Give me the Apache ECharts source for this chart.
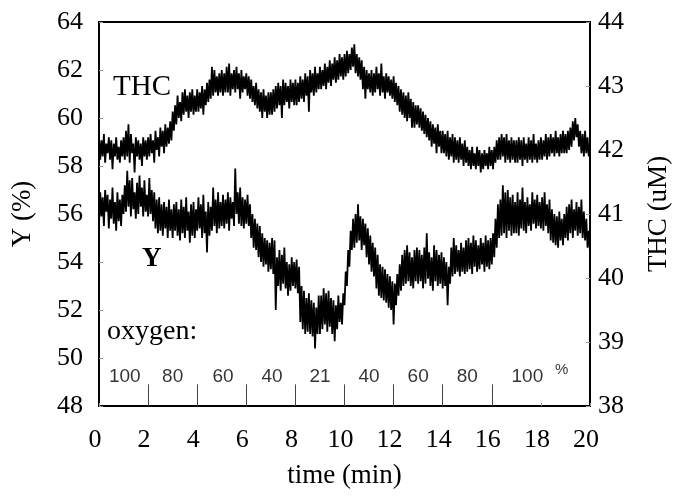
<!DOCTYPE html>
<html>
<head>
<meta charset="utf-8">
<script src="https://cdn.jsdelivr.net/npm/echarts/dist/echarts.min.js"></script>
<style>html,body{margin:0;padding:0;background:#fff}#c{width:681px;height:497px}</style>
</head>
<body>
<div id="c"></div>
<script>
// sampling: one reading every 0.05 min from 0 to 20 min (20 readings per row = 1 min)
const sampleStep = 0.05;
const xTicks = [0, 2, 4, 6, 8, 10, 12, 14, 16, 18, 20];
const yLeftTicks = [48, 50, 52, 54, 56, 58, 60, 62, 64];
const yRightTicks = [38, 39, 40, 41, 42, 43, 44];

// THC (uM), right axis
const thcValues = [
  42.2, 41.85, 42.15, 41.9, 42.25, 41.8, 42.1, 41.95, 42.2, 41.85, 42.15, 41.7, 42.1, 41.9, 42.2, 41.85, 42.05, 41.8, 42.15, 41.9,
  42.2, 41.85, 42.3, 41.9, 42.4, 41.8, 42.25, 41.95, 42.1, 41.65, 42.2, 41.9, 42.15, 41.85, 42.1, 41.75, 42.2, 41.9, 42.15, 41.85,
  42.2, 41.9, 42.25, 41.95, 42.15, 41.8, 42.3, 42.0, 42.2, 41.9, 42.35, 42.05, 42.3, 41.95, 42.4, 42.05, 42.35, 42.1, 42.45, 42.15,
  42.6, 42.3, 42.7, 42.4, 42.85, 42.5, 42.75, 42.45, 42.9, 42.55, 42.95, 42.6, 42.85, 42.5, 42.9, 42.6, 42.95, 42.55, 42.85, 42.6,
  42.95, 42.6, 42.9, 42.65, 43.0, 42.55, 42.95, 42.7, 43.05, 42.75, 43.1, 42.8, 43.3, 42.85, 43.25, 42.9, 43.15, 42.85, 43.2, 42.9,
  43.25, 42.85, 43.2, 42.9, 43.3, 42.9, 43.35, 42.85, 43.2, 42.95, 43.25, 42.9, 43.3, 42.95, 43.2, 42.8, 43.25, 42.9, 43.15, 42.95,
  43.2, 42.85, 43.15, 42.8, 43.1, 42.75, 43.0, 42.7, 43.05, 42.65, 42.95, 42.6, 42.9, 42.5, 42.95, 42.6, 42.85, 42.5, 42.9, 42.55,
  42.9, 42.55, 42.95, 42.6, 43.0, 42.65, 43.05, 42.7, 43.0, 42.5, 43.1, 42.7, 43.05, 42.75, 43.0, 42.65, 43.1, 42.75, 43.05, 42.7,
  43.1, 42.7, 43.05, 42.75, 43.15, 42.8, 43.1, 42.75, 43.2, 42.85, 43.15, 42.6, 43.25, 42.9, 43.2, 42.85, 43.3, 42.9, 43.2, 42.95,
  43.3, 42.95, 43.25, 43.0, 43.35, 42.95, 43.3, 43.05, 43.4, 43.0, 43.35, 43.1, 43.45, 43.05, 43.4, 43.1, 43.5, 43.15, 43.45, 43.1,
  43.5, 43.15, 43.55, 43.2, 43.5, 43.25, 43.6, 43.3, 43.65, 43.2, 43.5, 43.15, 43.45, 43.1, 43.4, 42.95, 43.3, 42.8, 43.25, 42.95,
  43.2, 42.9, 43.25, 42.85, 43.2, 42.9, 43.3, 42.95, 43.2, 42.85, 43.35, 42.9, 43.15, 42.8, 43.2, 42.9, 43.15, 42.85, 43.1, 42.8,
  43.15, 42.75, 43.05, 42.7, 43.0, 42.6, 42.95, 42.55, 42.9, 42.5, 42.85, 42.45, 42.9, 42.5, 42.8, 42.35, 42.75, 42.35, 42.7, 42.4,
  42.7, 42.35, 42.65, 42.3, 42.6, 42.25, 42.55, 42.2, 42.5, 42.15, 42.45, 42.05, 42.4, 42.1, 42.35, 41.95, 42.4, 42.05, 42.3, 41.95,
  42.3, 41.95, 42.25, 41.9, 42.3, 41.85, 42.2, 41.9, 42.25, 41.8, 42.2, 41.85, 42.15, 41.8, 42.2, 41.85, 42.1, 41.75, 42.15, 41.8,
  42.05, 41.75, 42.0, 41.7, 42.05, 41.75, 41.95, 41.7, 42.05, 41.75, 42.0, 41.65, 41.95, 41.7, 42.0, 41.75, 41.95, 41.7, 42.05, 41.75,
  42.0, 41.7, 42.05, 41.8, 42.15, 41.85, 42.2, 41.85, 42.25, 41.9, 42.2, 41.8, 42.25, 41.85, 42.15, 41.8, 42.2, 41.85, 42.15, 41.8,
  42.15, 41.8, 42.2, 41.85, 42.15, 41.75, 42.2, 41.85, 42.1, 41.8, 42.2, 41.85, 42.15, 41.8, 42.25, 41.85, 42.1, 41.8, 42.15, 41.85,
  42.2, 41.85, 42.15, 41.9, 42.25, 41.85, 42.2, 41.9, 42.25, 41.95, 42.2, 41.9, 42.3, 41.95, 42.2, 41.9, 42.25, 41.95, 42.3, 41.95,
  42.25, 41.95, 42.3, 42.0, 42.35, 42.05, 42.45, 42.15, 42.5, 42.2, 42.4, 42.05, 42.3, 41.95, 42.25, 41.9, 42.3, 41.95, 42.2, 41.9,
  42.1
];

// Y (%), left axis
const yValues = [
  55.6, 56.9, 55.9, 56.7, 55.5, 57.0, 56.1, 56.8, 55.4, 56.6, 55.8, 57.1, 55.6, 56.5, 55.3, 56.9, 55.7, 56.6, 55.5, 56.8,
  56.0, 57.2, 56.1, 57.8, 56.3, 57.4, 55.9, 57.5, 56.2, 56.9, 55.8, 57.3, 56.0, 57.6, 56.3, 57.1, 55.9, 57.4, 56.1, 56.8,
  55.9, 57.5, 56.0, 57.0, 55.7, 56.9, 55.4, 56.6, 55.2, 56.7, 55.3, 56.4, 55.1, 56.5, 55.4, 56.3, 55.0, 56.6, 55.3, 56.2,
  55.0, 56.4, 55.3, 56.5, 55.1, 56.2, 54.9, 56.6, 55.2, 56.3, 55.0, 56.7, 55.3, 56.1, 54.8, 56.4, 55.1, 56.5, 55.0, 56.2,
  55.3, 56.7, 55.4, 56.4, 55.0, 56.8, 55.2, 56.1, 54.4, 56.5, 55.1, 56.3, 55.3, 57.1, 55.5, 56.6, 55.2, 56.9, 55.4, 56.5,
  55.5, 56.8, 55.4, 56.6, 55.6, 56.9, 55.3, 56.7, 55.8, 56.5, 55.5, 57.9, 56.0, 56.9, 55.6, 57.1, 55.5, 56.7, 55.4, 56.6,
  55.6, 56.8, 55.5, 56.4, 55.0, 56.0, 54.6, 55.8, 54.5, 55.6, 54.2, 55.5, 54.0, 55.2, 53.8, 55.0, 53.9, 54.9, 53.6, 54.8,
  53.7, 55.0, 53.5, 54.9, 52.0, 54.2, 53.0, 54.5, 52.8, 54.3, 53.1, 54.6, 52.9, 54.0, 52.6, 53.9, 52.8, 54.2, 53.0, 54.0,
  52.9, 54.1, 52.7, 53.8, 51.5, 53.0, 51.2, 52.8, 51.0, 52.5, 51.1, 52.7, 51.0, 52.4, 50.9, 52.3, 50.4, 52.1, 51.0, 52.6,
  51.0, 52.6, 51.2, 52.9, 51.4, 52.7, 51.1, 52.8, 51.3, 52.5, 51.0, 52.4, 50.7, 52.2, 51.2, 52.6, 51.5, 52.3, 51.4, 52.7,
  52.2, 53.6, 53.0, 54.5, 53.8, 55.3, 54.5, 55.8, 54.6, 56.0, 54.8, 56.4, 54.9, 55.9, 54.5, 55.8, 54.7, 55.6, 54.2, 55.4,
  53.9, 55.1, 53.6, 54.8, 53.4, 54.6, 52.9, 54.3, 52.6, 53.9, 52.5, 53.8, 52.4, 53.7, 52.3, 53.5, 52.1, 53.4, 52.0, 53.2,
  51.4, 53.1, 52.2, 53.5, 52.6, 53.9, 52.8, 54.3, 53.0, 54.5, 53.1, 54.7, 53.2, 54.4, 53.0, 54.2, 52.9, 54.5, 53.2, 54.6,
  53.1, 54.5, 53.2, 54.3, 52.9, 54.6, 53.1, 55.2, 53.3, 54.4, 53.0, 54.2, 52.8, 54.7, 53.2, 54.5, 53.0, 54.3, 53.1, 54.4,
  52.9, 54.2, 53.0, 54.0, 52.2, 53.8, 53.1, 54.6, 53.4, 55.0, 53.5, 54.7, 53.6, 54.5, 53.4, 54.8, 53.6, 54.6, 53.5, 54.9,
  53.6, 55.0, 53.7, 54.8, 53.5, 55.1, 53.8, 54.9, 53.6, 54.7, 53.7, 55.0, 53.9, 54.8, 53.6, 55.1, 53.8, 54.9, 53.7, 55.0,
  53.9, 55.2, 54.2, 55.8, 54.6, 56.4, 55.0, 56.6, 55.1, 57.2, 55.2, 56.9, 55.0, 57.0, 55.3, 56.7, 55.1, 56.8, 55.2, 56.5,
  55.2, 56.9, 55.1, 56.6, 55.4, 57.1, 55.3, 56.5, 55.2, 56.7, 55.5, 56.4, 55.3, 56.9, 55.6, 56.6, 55.4, 56.8, 55.5, 56.5,
  55.4, 56.7, 55.3, 56.9, 55.5, 56.4, 55.2, 56.6, 54.9, 56.2, 54.8, 56.0, 54.7, 55.9, 54.6, 56.1, 54.9, 55.8, 54.7, 56.0,
  55.0, 56.3, 54.9, 56.4, 55.2, 56.6, 55.0, 56.2, 55.3, 56.5, 55.1, 56.3, 55.2, 56.6, 55.0, 56.1, 54.9, 55.8, 54.6, 55.3,
  54.4
];

// oxygen (%) periods: label text, centre time of the label
const oxygenLabels = ['100', '80', '60', '40', '21', '40', '60', '80', '100'];
const oxygenLabelTimes = [1.05, 3.0, 5.05, 7.05, 9.0, 11.0, 13.0, 15.0, 17.45];
const oxygenLabelLevel = 49.2;      // on the Y (%) scale
const oxygenDividerTimes = [2, 4, 6, 8, 10, 12, 14, 16];
const oxygenDividerTop = 48.9;
const percentSign = { t: 18.85, level: 49.5 };

const serif = "'Liberation Serif', 'DejaVu Serif', serif";
const sans = "'Liberation Sans', Arial, sans-serif";

const thcData = thcValues.map((v, i) => [Math.round(i * sampleStep * 100) / 100, v]);
const yData = yValues.map((v, i) => [Math.round(i * sampleStep * 100) / 100, v]);

const chart = echarts.init(document.getElementById('c'), null, { renderer: 'canvas' });

const axisLineStyle = { color: '#000', width: 2 };

chart.setOption({
  animation: false,
  backgroundColor: '#fff',
  grid: { left: 99, right: 91, top: 22, bottom: 91, show: true, borderColor: '#000', borderWidth: 2, backgroundColor: 'transparent' },
  xAxis: {
    type: 'value', min: xTicks[0], max: xTicks[xTicks.length - 1], interval: 2,
    name: 'time (min)', nameLocation: 'middle', nameGap: 56,
    nameTextStyle: { fontFamily: serif, fontSize: 27, color: '#000' },
    axisLine: { lineStyle: axisLineStyle },
    axisTick: { show: true, inside: true, length: 3, lineStyle: { color: '#999', width: 1 } },
    axisLabel: { fontFamily: serif, fontSize: 26, color: '#000', margin: 21, padding: [0, 8, 0, 0] },
    splitLine: { show: false }
  },
  yAxis: [
    {
      type: 'value', min: 48, max: 64, interval: 2, position: 'left',
      name: 'Y (%)', nameLocation: 'middle', nameGap: 63, nameRotate: 90,
      nameTextStyle: { fontFamily: serif, fontSize: 27, color: '#000' },
      axisLine: { show: true, lineStyle: axisLineStyle },
      axisTick: { show: true, inside: true, length: 4, lineStyle: { color: '#999', width: 1 } },
      axisLabel: { fontFamily: serif, fontSize: 26, color: '#000', margin: 16 },
      splitLine: { show: false }
    },
    {
      type: 'value', min: 38, max: 44, interval: 1, position: 'right',
      name: 'THC (uM)', nameLocation: 'middle', nameGap: 55, nameRotate: 90,
      nameTextStyle: { fontFamily: serif, fontSize: 27, color: '#000' },
      axisLine: { show: true, lineStyle: axisLineStyle },
      axisTick: { show: true, inside: true, length: 4, lineStyle: { color: '#999', width: 1 } },
      axisLabel: { fontFamily: serif, fontSize: 26, color: '#000', margin: 8 },
      splitLine: { show: false }
    }
  ],
  series: [
    {
      name: 'THC', type: 'line', yAxisIndex: 1, data: thcData, showSymbol: false, symbol: 'none',
      lineStyle: { color: '#000', width: 1.8 }, silent: true
    },
    {
      name: 'Y', type: 'line', yAxisIndex: 0, data: yData, showSymbol: false, symbol: 'none',
      lineStyle: { color: '#000', width: 1.8 }, silent: true,
      markLine: {
        silent: true, symbol: ['none', 'none'], label: { show: false },
        lineStyle: { color: '#444', width: 1, type: 'solid' },
        data: oxygenDividerTimes.map(t => [{ coord: [t, 48] }, { coord: [t, oxygenDividerTop] }])
      }
    },
    {
      name: 'oxygen', type: 'scatter', yAxisIndex: 0, symbolSize: 0, silent: true,
      data: oxygenLabels.map((s, i) => ({ value: [oxygenLabelTimes[i], oxygenLabelLevel], name: s })),
      label: { show: true, position: 'inside', formatter: p => p.name, fontFamily: sans, fontSize: 19, color: '#000' }
    },
    {
      name: 'pct', type: 'scatter', yAxisIndex: 0, symbolSize: 0, silent: true,
      data: [{ value: [percentSign.t, percentSign.level], name: '%' }],
      label: { show: true, position: 'inside', formatter: p => p.name, fontFamily: sans, fontSize: 15, color: '#000' }
    }
  ],
  graphic: [
    { type: 'text', left: 113, top: 73, style: { text: 'THC', font: "29px 'Liberation Serif', serif", fill: '#000' } },
    { type: 'text', left: 142, top: 246, style: { text: 'Y', font: "bold 27px 'Liberation Serif', serif", fill: '#000' } },
    { type: 'text', left: 107, top: 318, style: { text: 'oxygen:', font: "28px 'Liberation Serif', serif", fill: '#000' } }
  ]
});
</script>
</body>
</html>
